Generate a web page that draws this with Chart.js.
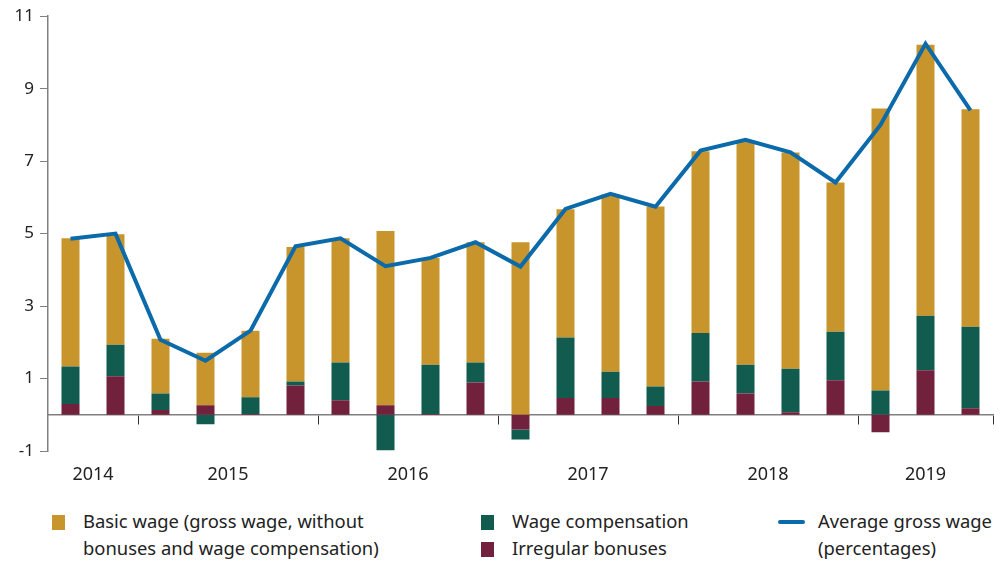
<!DOCTYPE html>
<html>
<head>
<meta charset="utf-8">
<script src="https://cdn.jsdelivr.net/npm/chart.js@4/dist/chart.umd.min.js"></script>
<style>
  html, body { margin: 0; padding: 0; background: #fff; }
  #wrap { position: relative; width: 1005px; height: 563px; font-family: "Noto Sans", sans-serif; color: #222; }
  #c { position: absolute; left: 0; top: 0; }
  .lg { position: absolute; font-size: 18.4px; line-height: 27px; white-space: nowrap; }
  .sw { position: absolute; width: 13px; height: 15px; }
  .ln { position: absolute; width: 27px; height: 4px; border-radius: 2px; }
</style>
</head>
<body>
<div id="wrap">
  <canvas id="c" width="1005" height="495"></canvas>
  <div class="sw" style="left:52px;top:515px;background:#C8952C"></div>
  <div class="lg" style="left:83px;top:507px">Basic wage (gross wage, without<br>bonuses and wage compensation)</div>
  <div class="sw" style="left:481px;top:515px;background:#115B4F"></div>
  <div class="lg" style="left:512px;top:507px">Wage compensation</div>
  <div class="sw" style="left:481px;top:542px;background:#72213D"></div>
  <div class="lg" style="left:512px;top:534px">Irregular bonuses</div>
  <div class="ln" style="left:778px;top:520px;background:#0A6AAA"></div>
  <div class="lg" style="left:818px;top:507px">Average gross wage<br>(percentages)</div>
</div>
<script>
// Quarters: 2014 Q3 .. 2019 Q3
const quarters = ["2014Q3","2014Q4","2015Q1","2015Q2","2015Q3","2015Q4","2016Q1","2016Q2","2016Q3","2016Q4",
                  "2017Q1","2017Q2","2017Q3","2017Q4","2018Q1","2018Q2","2018Q3","2018Q4","2019Q1","2019Q2","2019Q3"];
const bonuses = [0.30, 1.06, 0.13, 0.26, 0.02, 0.81, 0.40, 0.26, 0.02, 0.89, -0.41, 0.46, 0.46, 0.24, 0.92, 0.59, 0.07, 0.95, -0.48, 1.23, 0.18];
const compensation = [1.03, 0.87, 0.46, -0.26, 0.46, 0.11, 1.04, -0.98, 1.36, 0.55, -0.27, 1.67, 0.73, 0.54, 1.34, 0.79, 1.20, 1.34, 0.67, 1.50, 2.25];
const basicWage = [3.54, 3.05, 1.51, 1.45, 1.84, 3.71, 3.43, 4.81, 2.95, 3.32, 4.76, 3.54, 4.89, 4.97, 5.01, 6.16, 5.97, 4.12, 7.78, 7.48, 6.00];
const avgGross = [4.86, 5.00, 2.07, 1.49, 2.32, 4.65, 4.87, 4.10, 4.33, 4.76, 4.09, 5.68, 6.10, 5.74, 7.29, 7.59, 7.24, 6.41, 8.00, 10.24, 8.40];
const yTicks = [-1, 1, 3, 5, 7, 9, 11];
const yearLabels = ["2014", "2015", "2016", "2017", "2018", "2019"];
const yearCenters = [0.5, 3.5, 7.5, 11.5, 15.5, 19];
const yearBoundaries = [1.5, 5.5, 9.5, 13.5, 17.5, 20.5];

const axisGray = "#808080";
const yFont = { family: "'Noto Sans', sans-serif", size: 17 };
const xFont = { family: "'Noto Sans', sans-serif", size: 18 };

new Chart(document.getElementById('c'), {
  data: {
    labels: quarters,
    datasets: [
      { type: 'line', label: 'Average gross wage (percentages)', data: avgGross, borderColor: '#0A6AAA', borderWidth: 4,
        pointRadius: 0, tension: 0, fill: false, order: 0, xAxisID: 'x', yAxisID: 'y' },
      { type: 'bar', label: 'Irregular bonuses', data: bonuses, backgroundColor: '#72213D', stack: 's', order: 1,
        barPercentage: 0.4, categoryPercentage: 1, xAxisID: 'x', yAxisID: 'y' },
      { type: 'bar', label: 'Wage compensation', data: compensation, backgroundColor: '#115B4F', stack: 's', order: 1,
        barPercentage: 0.4, categoryPercentage: 1, xAxisID: 'x', yAxisID: 'y' },
      { type: 'bar', label: 'Basic wage (gross wage, without bonuses and wage compensation)', data: basicWage, backgroundColor: '#C8952C', stack: 's', order: 1,
        barPercentage: 0.4, categoryPercentage: 1, xAxisID: 'x', yAxisID: 'y' }
    ]
  },
  options: {
    responsive: false,
    animation: false,
    layout: { padding: { top: 14, right: 12, left: 0, bottom: 0 } },
    plugins: { legend: { display: false }, tooltip: { enabled: false } },
    scales: {
      x: { type: 'category', stacked: true, display: false, offset: true },
      xYears: {
        type: 'linear', position: 'bottom', min: -0.5, max: 20.5,
        grid: { display: false }, border: { display: false },
        afterBuildTicks: (s) => { s.ticks = yearCenters.map(v => ({ value: v })); },
        afterFit: (s) => { s.height = 44; },
        ticks: { font: xFont, color: '#222', padding: 5, maxRotation: 0, autoSkip: false,
          callback: (v, i) => yearLabels[i] }
      },
      xZero: {
        type: 'linear', position: { y: 0 }, min: -0.5, max: 20.5,
        grid: { drawOnChartArea: false, drawTicks: true, tickLength: 9, color: '#333', lineWidth: 1 },
        border: { display: true, color: axisGray, width: 1.5 },
        afterBuildTicks: (s) => { s.ticks = yearBoundaries.map(v => ({ value: v })); },
        ticks: { display: false }
      },
      y: {
        type: 'linear', stacked: true, min: -1, max: 11, position: 'left',
        afterBuildTicks: (s) => { s.ticks = yTicks.map(v => ({ value: v })); },
        afterFit: (s) => { s.width = 48; },
        grid: { drawOnChartArea: false, drawTicks: true, tickLength: 8, color: axisGray },
        border: { display: true, color: axisGray, width: 1.5 },
        ticks: { font: yFont, color: '#222', padding: 6 }
      }
    }
  }
});
</script>
</body>
</html>
